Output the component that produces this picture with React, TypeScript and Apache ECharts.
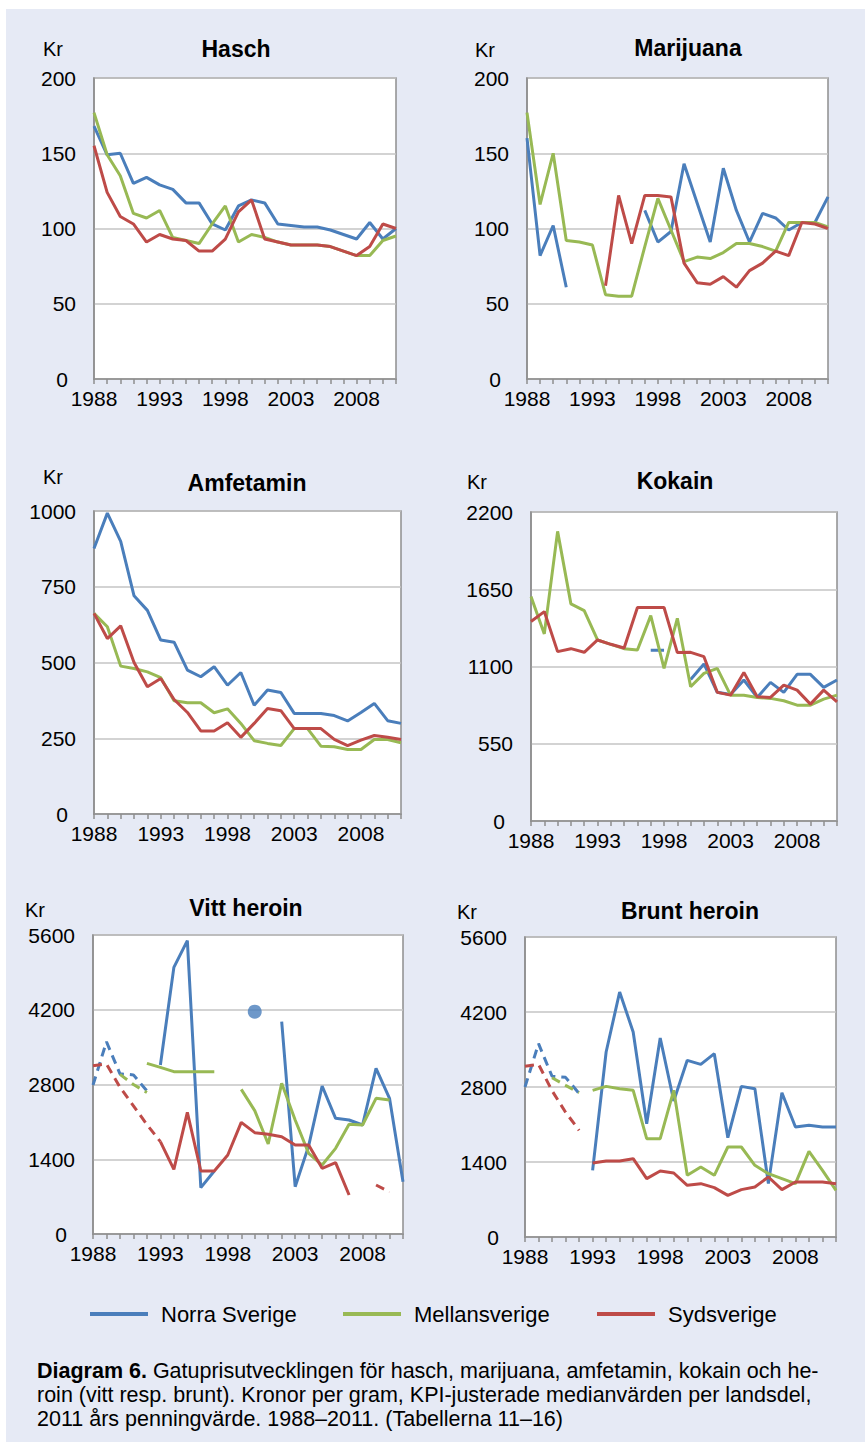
import React, { useEffect, useRef } from "react";
import * as echarts from "echarts";

const years = ["1988","1989","1990","1991","1992","1993","1994","1995","1996","1997","1998","1999","2000","2001","2002","2003","2004","2005","2006","2007","2008","2009","2010","2011"];
const regionNames = ["Norra Sverige", "Mellansverige", "Sydsverige"];
const regionColors = ["#4A7EBB", "#98B954", "#BE4B48"];
const _ = null;

const haschNorra = [168,149,150,130,134,129,126,117,117,103,99,115,119,117,103,102,101,101,99,96,93,104,93,100];
const haschMellan = [177,149,135,110,107,112,94,92,90,103,115,91,96,94,91,89,89,89,88,85,82,82,92,95];
const haschSyd = [155,124,108,103,91,96,93,92,85,85,93,111,119,93,91,89,89,89,88,85,82,88,103,100];

const marijuanaNorra = [160,82,102,61,_,_,_,_,_,112,91,98,143,117,91,140,112,91,110,107,99,104,104,121];
const marijuanaMellan = [177,116,150,92,91,89,56,55,55,88,120,99,78,81,80,84,90,90,88,85,104,104,104,101];
const marijuanaSyd = [_,_,_,_,_,_,62,122,90,122,122,121,77,64,63,68,61,72,77,85,82,104,103,100];

const amfNorra = [876,993,900,720,672,574,567,475,453,486,425,467,359,409,401,332,332,332,325,307,335,365,308,299];
const amfMellan = [662,618,488,480,469,450,374,367,367,334,347,299,242,233,226,282,282,224,222,213,213,246,246,235];
const amfSyd = [662,579,621,500,420,447,378,335,274,274,301,253,299,348,341,282,282,282,246,226,244,259,253,246];

const kokNorra = [_,_,_,_,_,_,_,_,_,1215,1215,_,1008,1118,916,901,1004,880,987,916,1044,1044,951,1004];
const kokMellan = [1598,1332,2062,1546,1498,1289,1258,1227,1218,1462,1087,1443,956,1051,1087,896,896,880,873,856,825,825,868,896];
const kokSyd = [1420,1491,1206,1227,1201,1289,1258,1232,1520,1520,1520,1199,1201,1170,916,896,1058,885,880,968,932,832,932,849];

const vittNorra = [_,_,_,_,_,3165,4994,5494,868,1180,_,_,_,_,3977,886,1650,2772,2166,2135,2041,3103,2541,980];
const vittNorraDot = [_,_,_,_,_,_,_,_,_,_,_,_,4164,_,_,_,_,_,_,_,_,_,_,_];
const vittMellan = [_,_,_,_,3196,3120,3040,3040,3040,3040,_,2709,2310,1686,2822,2135,1511,1292,1604,2054,2041,2541,2510,_];
const vittSyd = [_,_,_,_,_,1729,1211,2279,1180,1180,1480,2091,1898,1867,1823,1667,1667,1230,1336,730,_,_,_,_];
const vittNorraDash = [2790,3600,3000,2980,2680,_,_,_,_,_,_,_,_,_,_,_,_,_,_,_,_,_,_,_];
const vittMellanDash = [_,_,2990,2800,2650,_,_,_,_,_,_,_,_,_,_,_,_,_,_,_,_,_,_,_];
const vittSydDash = [3153,3184,2750,2400,2050,1729,_,_,_,_,_,_,_,_,_,_,_,_,_,_,_,918,790,_];

const bruntNorra = [_,_,_,_,_,1244,3453,4573,3827,2115,3714,2539,3298,3223,3422,1854,2812,2769,996,2694,2053,2084,2053,2053];
const bruntMellan = [_,_,_,_,_,2738,2812,2769,2738,1835,1835,2738,1151,1307,1151,1680,1680,1338,1182,1089,996,1599,1244,871];
const bruntSyd = [_,_,_,_,_,1381,1419,1419,1462,1089,1232,1195,964,996,921,778,884,933,1120,884,1027,1027,1027,996];
const bruntNorraDash = [2800,3609,3000,2980,2680,_,_,_,_,_,_,_,_,_,_,_,_,_,_,_,_,_,_,_];
const bruntMellanDash = [_,_,2974,2830,2694,_,_,_,_,_,_,_,_,_,_,_,_,_,_,_,_,_,_,_];
const bruntSydDash = [3186,3223,2730,2330,1991,_,_,_,_,_,_,_,_,_,_,_,_,_,_,_,_,_,_,_];

const panelTitles = ["Hasch", "Marijuana", "Amfetamin", "Kokain", "Vitt heroin", "Brunt heroin"];
const yMax = [200, 200, 1000, 2200, 5600, 5600];
const yInterval = [50, 50, 250, 550, 1400, 1400];
const unitLabel = "Kr";
const legendLabels = regionNames;
const captionBold = "Diagram 6.";
const captionLines = [
  " Gatuprisutvecklingen för hasch, marijuana, amfetamin, kokain och he-",
  "roin (vitt resp. brunt). Kronor per gram, KPI-justerade medianvärden per landsdel,",
  "2011 års penningvärde. 1988–2011. (Tabellerna 11–16)",
];

const solidData = [
  [haschNorra, haschMellan, haschSyd],
  [marijuanaNorra, marijuanaMellan, marijuanaSyd],
  [amfNorra, amfMellan, amfSyd],
  [kokNorra, kokMellan, kokSyd],
  [vittNorra, vittMellan, vittSyd],
  [bruntNorra, bruntMellan, bruntSyd],
];
const dashedData: any = {
  4: [vittNorraDash, vittMellanDash, vittSydDash],
  5: [bruntNorraDash, bruntMellanDash, bruntSydDash],
};

// layout (pixels)
const grids = [
  { left: 94, top: 78, width: 302, height: 301 },
  { left: 527, top: 78, width: 301, height: 301 },
  { left: 94, top: 511, width: 307, height: 303 },
  { left: 531, top: 512, width: 306, height: 309 },
  { left: 93, top: 935, width: 310, height: 299 },
  { left: 525, top: 937, width: 311, height: 300 },
];
const titlePos = [[236, 49], [688, 48], [247, 483], [675, 481], [246, 908], [690, 911]];
const krPos = [[43, 49], [475, 50], [43, 477], [467, 482], [25, 910], [457, 912]];

const FONT = "'Liberation Sans', Arial, Helvetica, sans-serif";

export default function App() {
  const ref = useRef<HTMLDivElement>(null);
  useEffect(() => {
    if (!ref.current) return;
    const chart = echarts.init(ref.current, null, { renderer: "svg" });
    const series: any[] = [];
    solidData.forEach((panel, i) => {
      const dashed = dashedData[i];
      if (dashed) {
        dashed.forEach((d: any, r: number) => {
          series.push({
            name: regionNames[r] + " (streckad)",
            type: "line",
            xAxisIndex: i,
            yAxisIndex: i,
            data: d,
            symbol: "none",
            lineStyle: { color: regionColors[r], width: 3, type: [9, 6] },
            itemStyle: { color: regionColors[r] },
            z: 2 + r,
          });
        });
      }
      panel.forEach((d, r) => {
        series.push({
          name: regionNames[r],
          type: "line",
          xAxisIndex: i,
          yAxisIndex: i,
          data: d,
          symbol: "none",
          lineStyle: { color: regionColors[r], width: 3 },
          itemStyle: { color: regionColors[r] },
          z: 2 + r,
        });
      });
    });
    series.push({
      name: regionNames[0] + " (punkt)",
      type: "scatter",
      xAxisIndex: 4,
      yAxisIndex: 4,
      data: vittNorraDot,
      symbol: "circle",
      symbolSize: 14,
      itemStyle: { color: regionColors[0] },
      z: 6,
    });

    const graphic: any[] = [
      { type: "rect", z: -100, shape: { x: 6, y: 9, width: 859, height: 1433 }, style: { fill: "#E6EAF5" } },
    ];
    panelTitles.forEach((t, i) => {
      graphic.push({
        type: "text", x: titlePos[i][0], y: titlePos[i][1],
        style: { text: t, fontSize: 23, fontWeight: "bold", fontFamily: FONT, fill: "#000", align: "center", verticalAlign: "middle" },
      });
      graphic.push({
        type: "text", x: krPos[i][0], y: krPos[i][1],
        style: { text: unitLabel, fontSize: 20, fontFamily: FONT, fill: "#000", align: "left", verticalAlign: "middle" },
      });
    });
    const captionY = [1371, 1395, 1419];
    captionLines.forEach((line, k) => {
      graphic.push({
        type: "text", x: 37, y: captionY[k],
        style: {
          text: k === 0 ? "{b|" + captionBold + "}" + line : line,
          fontSize: 21.5, fontFamily: FONT, fill: "#000", align: "left", verticalAlign: "middle",
          rich: { b: { fontSize: 21.5, fontFamily: FONT, fontWeight: "bold", fill: "#000" } },
        },
      });
    });

    const legendLeft = [90, 343, 597];
    const legend = legendLabels.map((name, k) => ({
      data: [{ name, icon: "rect" }],
      left: legendLeft[k],
      top: 1303,
      itemWidth: 58,
      itemHeight: 4,
      padding: 0,
      selectedMode: false,
      textStyle: { fontSize: 22, fontFamily: FONT, color: "#000", padding: [0, 0, 0, 8] },
    }));

    chart.setOption({
      animation: false,
      backgroundColor: "#fff",
      legend,
      graphic,
      grid: grids.map((g) => ({ ...g, show: true, backgroundColor: "#fff", borderColor: "#8E8E8E", borderWidth: 1.5, containLabel: false })),
      xAxis: grids.map((_g, i) => ({
        type: "category",
        gridIndex: i,
        data: years,
        boundaryGap: false,
        axisLine: { show: true, lineStyle: { color: "#8E8E8E", width: 1.5 } },
        axisTick: { show: true, interval: 0, length: 5, lineStyle: { color: "#8E8E8E", width: 1.5 } },
        axisLabel: { interval: 4, margin: 10, fontSize: 21, lineHeight: 18, fontFamily: FONT, color: "#000", hideOverlap: false },
        splitLine: { show: false },
      })),
      yAxis: grids.map((_g, i) => ({
        type: "value",
        gridIndex: i,
        min: 0,
        max: yMax[i],
        interval: yInterval[i],
        axisLine: { show: true, lineStyle: { color: "#8E8E8E", width: 1.5 } },
        axisTick: { show: false },
        axisLabel: {
          margin: 18, fontSize: 21, lineHeight: 18, fontFamily: FONT, color: "#000",
          formatter: (v: number) => (v === 0 ? "{z|0}" : String(v)),
          rich: { z: { fontSize: 21, lineHeight: 18, fontFamily: FONT, color: "#000", padding: [0, 8, 0, 0] } },
        },
        splitLine: { show: true, lineStyle: { color: "#C4C4C4", width: 1.5 } },
      })),
      series,
    });
    return () => chart.dispose();
  }, []);
  return (
    <div
      ref={ref}
      style={{ position: "absolute", left: 0, top: 0, width: 865, height: 1442 }}
    />
  );
}
